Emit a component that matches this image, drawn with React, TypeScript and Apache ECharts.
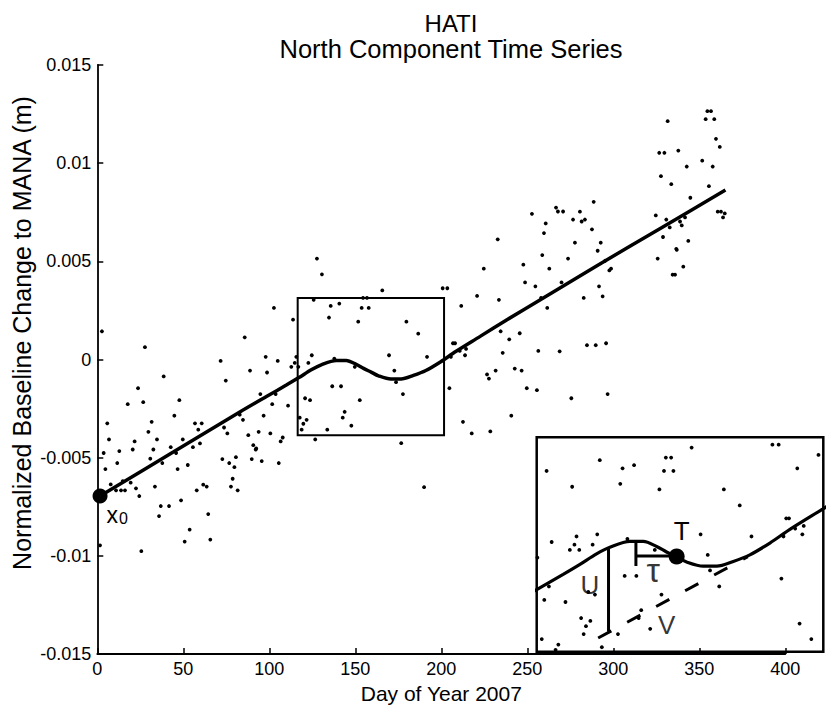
import React, { useEffect, useRef } from "react";
import * as echarts from "echarts";

const FONT = "'Liberation Sans', Arial, Helvetica, sans-serif";

// Observed daily north-component baseline change (day of year, metres)
const northObs: [number, number][] = [
  [2.7,0.00144],[27.7,0.00063],[5.8,-0.00325],[6.8,-0.00407],[17.7,-0.00227],[23.7,-0.00146],[26.7,-0.00217],[38.6,-0.00086],[31.6,-0.00317],[29.7,-0.00368],[34.7,-0.00407],[21.7,-0.00417],[47.7,-0.00207],[44.8,-0.00286],[49.7,-0.00407],[56.8,-0.00325],[60.7,-0.00325],[58.7,-0.00357],[59.7,-0.00427],[55.6,-0.00446],[42.7,-0.00446],[71.7,-0.00007],[74.7,-0.00107],[85.7,0.00113],[88.8,-0.00056],[97.9,0.00014],[98.7,-0.00066],[104.9,-0.00007],[102.7,0.00263],[113.8,0.00203],[115.7,0.00014],[114.8,-0.00017],[112.8,-0.00037],[116.9,-0.00037],[94.8,-0.00176],[103.7,-0.00176],[101.7,-0.00227],[110.9,-0.00235],[82.8,-0.00281],[84.7,-0.00307],[73.7,-0.00346],[75.6,-0.00376],[96.7,-0.00286],[87.8,-0.00385],[93.8,-0.00368],[100.6,-0.00376],[107.8,-0.00397],[106.6,-0.00417],[90.7,-0.00436],[92.4,-0.00453],[127.7,0.00514],[130.6,0.00434],[125.8,0.00304],[135.7,0.00273],[140.7,0.00285],[134.7,0.00214],[124.7,0.00022],[122.7,-0.00017],[137.8,0.00005],[136.6,-0.00136],[120.8,-0.00197],[123.7,-0.00207],[117.7,-0.00296],[121.7,-0.00307],[118.8,-0.00357],[133.7,-0.00357],[126.7,-0.00407],
  [3.7,-0.00476],[4.7,-0.00558],[1.6,-0.00946],[12.8,-0.00466],[11.6,-0.00527],[7.8,-0.00636],[10.9,-0.00666],[13.8,-0.00666],[16.1,-0.00666],[14.8,-0.00619],[19.4,-0.00627],[22.5,-0.00656],[24.4,-0.00695],[20.6,-0.00458],[25.6,-0.00976],[32.6,-0.00458],[30.8,-0.00505],[37.8,-0.00527],[45.8,-0.00476],[46.7,-0.00558],[33.5,-0.00647],[36.9,-0.00746],[35.9,-0.00797],[41.7,-0.00746],[48.7,-0.00717],[52.6,-0.00537],[57.8,-0.00666],[61.6,-0.00637],[63.6,-0.00647],[64.5,-0.00787],[53.7,-0.00866],[50.8,-0.00927],[65.7,-0.00917],[72.7,-0.00507],[76.7,-0.00527],[80.6,-0.00497],[79.7,-0.00548],[78.7,-0.00607],[77.7,-0.00647],[81.6,-0.00666],[89.8,-0.00507],[92.1,-0.00458],[95.6,-0.00517],[105.5,-0.00527],
  [154.5,0.00314],[156.8,0.00314],[153.7,0.00263],[157.8,0.00263],[151.7,0.00193],[165.7,0.00352],[179.7,0.00193],[186.6,0.00132],[191.7,0.00014],[169.6,0.00022],[172.7,-0.00056],[173.7,-0.00115],[177.7,-0.00176],[152.6,-0.00207],[149.7,-0.00037],[141.7,-0.00136],[119.8,-0.00327],[143.8,-0.00266],[142.7,-0.00296],[147.7,-0.00337],[176.7,-0.00426],[200.8,0.00363],[203.5,0.00363],[211.6,0.00273],[220.8,0.00324],[224.7,0.00463],[233.5,0.00304],[247.7,0.00483],[248.7,0.00393],[254.7,0.00373],[256.4,0.00044],[234.5,0.00144],[239.5,0.00103],[245.6,0.00134],[235.7,0.00034],[206.8,0.00083],[208.0,0.00083],[210.7,0.00044],[214.4,0.00054],[213.8,0.00022],[205.6,0.00014],[204.7,-0.00146],[226.6,-0.00076],[227.7,-0.00097],[231.6,-0.00056],[242.7,-0.00046],[246.7,-0.00056],[249.7,-0.00146],[255.6,-0.00156],[240.7,-0.00286],[212.6,-0.00317],[217.7,-0.00376],[228.5,-0.00366],
  [252.7,0.00742],[232.8,0.00612],
  [331.6,0.01214],[354.7,0.01265],[356.8,0.01265],[353.7,0.01224],[358.7,0.01224],[326.7,0.01053],[329.7,0.01053],[337.8,0.01064],[359.7,0.01124],[361.9,0.01083],[351.7,0.01013],[342.7,0.00983],[357.8,0.00983],[327.7,0.00934],[333.7,0.00893],[355.6,0.00883],[344.8,0.00824],[324.7,0.00734],[330.8,0.00713],[332.8,0.00673],[338.8,0.00703],[339.8,0.00683],[341.7,0.00724],[328.9,0.00624],[343.6,0.00604],[336.6,0.00564],[360.7,0.00753],[362.6,0.00753],[364.8,0.00744],[363.8,0.00724],[266.7,0.00774],[267.8,0.00754],[270.8,0.00754],[260.7,0.00693],[259.7,0.00644],[280.6,0.00753],[276.6,0.00713],[281.6,0.00703],[283.5,0.00713],[288.6,0.00803],[287.6,0.00663],[277.7,0.00595],[292.7,0.00595],
  [258.7,0.00532],[273.7,0.00514],[290.9,0.00554],[262.8,0.00463],[269.9,0.00393],[258.0,0.00314],[261.6,0.00263],[295.2,0.00503],[297.7,0.00454],[298.7,0.00463],[291.7,0.00373],[293.8,0.00322],[282.8,0.00314],[325.8,0.00514],[336.9,0.00559],[340.7,0.00473],[334.5,0.00432],[335.9,0.00432],[268.8,0.00042],[284.7,0.00073],[289.8,0.00073],[295.8,0.00083],[275.6,-0.00197],[296.7,-0.00176],[190.0,-0.0065],
];

// Fitted model: linear trend with a slow slip transient
const modelCurve: [number, number][] = [
  [1.6,-0.00695],[44.4,-0.00470],[83.1,-0.00266],[98.6,-0.00187],[109.9,-0.00130],[117.2,-0.00092],
  [124.4,-0.00052],[130.2,-0.00027],[138.9,-0.00005],[144.7,-0.00005],[150.5,-0.00024],[154.8,-0.00045],
  [159.2,-0.00064],[163.5,-0.00083],[170.7,-0.00099],[176.6,-0.00099],[183.8,-0.00081],[191.0,-0.00056],
  [199.7,-0.00011],[208.4,0.00041],[222.6,0.00118],[238.2,0.00203],[257.6,0.00305],[290.5,0.00478],
  [329.3,0.00678],[365.2,0.00863],
];

const x0Point: [number, number][] = [[1.6, -0.00695]];
const zoomBox: [number, number][] = [[116.5, 0.00314], [201.6, -0.00385]];

// Inset (magnified view) ranges and annotations
const insetXRange = [98.4, 222.9];
const insetYRange = [-0.00424, 0.00391];
const tPoint: [number, number][] = [[159.2, -0.00062]];
const tauBar: [number, number][] = [[141.5, -0.00060], [159.2, -0.00060]];
const tauTick: [number, number][] = [[141.5, 0.00001], [141.5, -0.00098]];
const uSegment: [number, number][] = [[129.6, -0.00028], [129.6, -0.00347]];
const vTrend: [number, number][] = [[125.1, -0.00372], [190.1, -0.00063]];
const insetLabels = [
  { name: "U", value: [121.5, -0.00169], size: 26 },
  { name: "τ", value: [149.0, -0.00112], size: 34 },
  { name: "V", value: [154.9, -0.00321], size: 26 },
];

const xTicks = { min: 0, max: 400, interval: 50 };
const yTicks = { min: -0.015, max: 0.015, interval: 0.005 };

export default function App() {
  const ref = useRef<HTMLDivElement>(null);
  useEffect(() => {
    if (!ref.current) return;
    const chart = echarts.init(ref.current, null, { renderer: "svg" });
    const black = "#000";
    const axisCommon = {
      axisLine: { show: true, onZero: false, lineStyle: { color: black, width: 1.8 } },
      axisTick: { show: true, inside: true, length: 6, lineStyle: { color: black, width: 1.5 } },
      splitLine: { show: false },
    };
    chart.setOption({
      animation: false,
      backgroundColor: "#fff",
      textStyle: { fontFamily: FONT },
      title: {
        text: "HATI",
        subtext: "North Component Time Series",
        left: 451,
        top: 11,
        padding: 0,
        itemGap: 1,
        textAlign: "center",
        textStyle: { fontSize: 24, fontWeight: "normal", lineHeight: 24, color: black, fontFamily: FONT },
        subtextStyle: { fontSize: 25.5, lineHeight: 25.5, color: black, fontFamily: FONT },
      },
      graphic: [
        {
          type: "text",
          x: 22,
          y: 333,
          rotation: Math.PI / 2,
          style: {
            text: "Normalized Baseline Change to MANA (m)",
            fontSize: 25,
            fontFamily: FONT,
            fill: black,
            textAlign: "center",
            textVerticalAlign: "middle",
          },
        },
      ],
      grid: [
        { left: 97.3, right: 47.7, top: 65, bottom: 54 },
        {
          left: 536.7, top: 437.3, width: 286.6, height: 214.4,
          show: true, backgroundColor: "#fff", borderColor: black, borderWidth: 2.5, z: 3,
        },
      ],
      xAxis: [
        {
          type: "value", gridIndex: 0, ...xTicks, ...axisCommon,
          axisLabel: { color: black, fontSize: 18, margin: 6, fontFamily: FONT, showMinLabel: true, showMaxLabel: true },
          name: "Day of Year 2007", nameLocation: "middle", nameGap: 26,
          nameTextStyle: { fontSize: 21, color: black, fontFamily: FONT },
          z: 5,
        },
        { type: "value", gridIndex: 1, min: insetXRange[0], max: insetXRange[1], show: false },
      ],
      yAxis: [
        {
          type: "value", gridIndex: 0, ...yTicks, ...axisCommon,
          axisLabel: {
            color: black, fontSize: 18, margin: 6, fontFamily: FONT, showMinLabel: true, showMaxLabel: true,
            formatter: (v: number) => String(parseFloat(v.toFixed(3))),
          },
          z: 5,
        },
        { type: "value", gridIndex: 1, min: insetYRange[0], max: insetYRange[1], show: false },
      ],
      series: [
        {
          type: "scatter", xAxisIndex: 0, yAxisIndex: 0, data: northObs,
          symbolSize: 3.8, itemStyle: { color: black, opacity: 1 }, z: 2,
        },
        {
          type: "line", xAxisIndex: 0, yAxisIndex: 0, data: modelCurve, smooth: 0.3,
          showSymbol: false, lineStyle: { color: black, width: 3.5 }, z: 3,
          markArea: {
            silent: true,
            itemStyle: { color: "rgba(0,0,0,0)", borderColor: black, borderWidth: 2 },
            data: [[{ coord: zoomBox[0] }, { coord: zoomBox[1] }]],
          },
        },
        {
          type: "scatter", xAxisIndex: 0, yAxisIndex: 0, data: x0Point, symbolSize: 15,
          itemStyle: { color: black, opacity: 1 }, z: 4, clip: false,
          label: {
            show: true, formatter: "{a|x}{b|0}", position: [14, 15], align: "left", verticalAlign: "top",
            rich: {
              a: { fontSize: 23, color: black, fontFamily: FONT },
              b: { fontSize: 16, color: black, fontFamily: FONT, verticalAlign: "bottom", padding: [6, 0, 0, 1] },
            },
          },
        },
        {
          type: "scatter", xAxisIndex: 1, yAxisIndex: 1, data: northObs, clip: true,
          symbolSize: 3.8, itemStyle: { color: black, opacity: 1 }, z: 5,
        },
        {
          type: "line", xAxisIndex: 1, yAxisIndex: 1, data: modelCurve, smooth: 0.3, clip: true,
          showSymbol: false, lineStyle: { color: black, width: 3.2 }, z: 6,
        },
        {
          type: "line", xAxisIndex: 1, yAxisIndex: 1, data: vTrend, showSymbol: false,
          lineStyle: { color: black, width: 3, type: [15, 18] }, z: 6,
        },
        {
          type: "line", xAxisIndex: 1, yAxisIndex: 1, data: uSegment, showSymbol: false,
          lineStyle: { color: black, width: 3 }, z: 6,
        },
        {
          type: "line", xAxisIndex: 1, yAxisIndex: 1, data: tauBar, showSymbol: false,
          lineStyle: { color: black, width: 3 }, z: 6,
        },
        {
          type: "line", xAxisIndex: 1, yAxisIndex: 1, data: tauTick, showSymbol: false,
          lineStyle: { color: black, width: 3 }, z: 6,
        },
        {
          type: "scatter", xAxisIndex: 1, yAxisIndex: 1, data: tPoint, symbolSize: 16,
          itemStyle: { color: black, opacity: 1 }, z: 7,
          label: {
            show: true, formatter: "T", position: "top", distance: 4, offset: [5, 0],
            fontSize: 26, color: black, fontFamily: FONT,
          },
        },
        {
          type: "scatter", xAxisIndex: 1, yAxisIndex: 1,
          data: insetLabels.map((d) => ({
            name: d.name, value: d.value,
            label: { fontSize: d.size },
          })),
          symbolSize: 1,
          itemStyle: { color: "rgba(0,0,0,0)" }, z: 7,
          label: {
            show: true, formatter: (p: any) => p.name, position: "inside",
            color: black, fontFamily: FONT, textBorderWidth: 0, textBorderColor: "transparent",
          },
        },
      ],
    });
    return () => chart.dispose();
  }, []);
  return (
    <div
      ref={ref}
      style={{ position: "fixed", left: 0, top: 0, width: 833, height: 709 }}
    />
  );
}
